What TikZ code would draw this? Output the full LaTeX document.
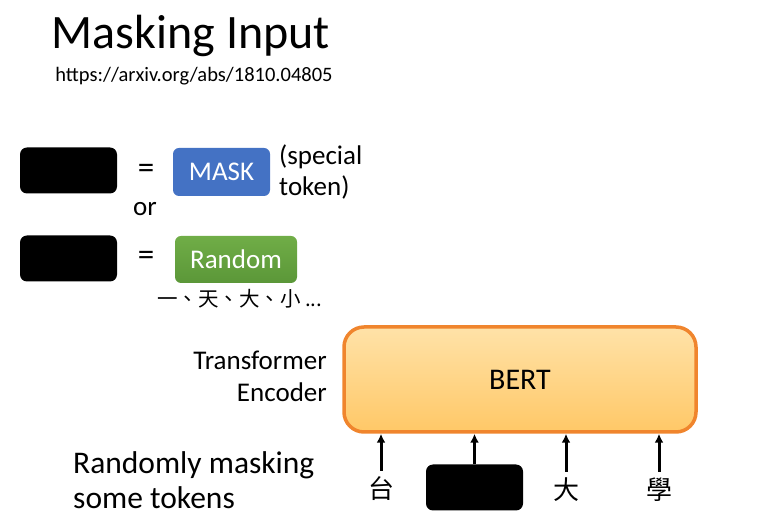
\documentclass[tikz,border=0pt]{standalone}
\usepackage{fontspec}
\setmainfont{Carlito}
\newfontfamily\cjkfont{Noto Sans CJK TC}
\usetikzlibrary{positioning,arrows.meta}
\definecolor{maskblue}{HTML}{4472C4}
\definecolor{randgreen}{HTML}{70AD47}
\definecolor{randdark}{HTML}{5B9738}
\definecolor{bertedge}{HTML}{F0852D}
\definecolor{bertlight}{HTML}{FFE2A8}
\definecolor{bertdark}{HTML}{FFC867}
\tikzset{
  hidden/.style={fill=black, rounded corners=7pt, minimum width=97pt,
                 minimum height=46pt, inner sep=0pt},
  tokenbox/.style={rounded corners=6pt, minimum height=48pt, inner sep=0pt,
                   text=white, font=\fontsize{27}{30}\selectfont},
  plain/.style={font=\fontsize{27}{31}\selectfont, inner sep=0pt},
  equals/.style={font=\fontsize{33}{36}\selectfont, inner sep=0pt},
  cjk/.style={font=\cjkfont\fontsize{26}{28}\selectfont, inner sep=0pt},
  up/.style={-{Latex[length=9pt,width=9pt]}, line width=3pt},
}
\begin{document}
\begin{tikzpicture}[x=1pt, y=-1pt]
    \useasboundingbox (0,0) rectangle (761,526);
    \node[font=\fontsize{48}{52}\selectfont, inner sep=0pt] (title) at (191,36) {Masking Input};
    \node[font=\fontsize{20.5}{24}\selectfont, inner sep=0pt] (url) at (194,76) {https://arxiv.org/abs/1810.04805};
    % mask or random
    \node[hidden] (h1) at (68.5,170.5) {};
    \node[equals] (eq1) at (146,171) {=};
    \node[tokenbox, fill=maskblue, minimum width=97pt] (mask) at (221.5,172) {MASK};
    \node[plain, align=left, anchor=west] (special) at (279,172) {(special\\token)};
    \node[plain] (or) at (145,209) {or};
    \node[hidden] (h2) at (68.5,258.5) {};
    \node[equals] (eq2) at (146,258) {=};
    \node[tokenbox, top color=randgreen, bottom color=randdark, minimum width=122pt,
          minimum height=47pt] (random) at (236,259.5) {Random};
    \node[font=\cjkfont\fontsize{20.5}{24}\selectfont, inner sep=0pt, anchor=west] (chars) at (157,299) {一、天、大、小 ...};
    % encoder
    \node[draw=bertedge, line width=3.5pt, rounded corners=20pt, top color=bertlight,
          bottom color=bertdark, minimum width=352pt, minimum height=105pt,
          font=\fontsize{30}{34}\selectfont] (bert) at (520,379.5) {BERT};
    \node[plain, align=right, anchor=east, font=\fontsize{27}{32}\selectfont] (enc) at (327,376) {Transformer\\Encoder};
    \node[cjk] (t1) at (381,489) {台};
    \node[hidden] (h3) at (474.5,487.5) {};
    \node[cjk] (t3) at (566,490) {大};
    \node[cjk] (t4) at (659,490) {學};
    \draw[up] (t1.north) ++(0,-6) coordinate (a1) -- (a1 |- bert.south);
    \draw[up] (h3.north) -- (h3.north |- bert.south);
    \draw[up] (t3.north) ++(0,-6) coordinate (a3) -- (a3 |- bert.south);
    \draw[up] (t4.north) ++(0,-6) coordinate (a4) -- (a4 |- bert.south);
    \node[font=\fontsize{31.5}{35}\selectfont, inner sep=0pt, align=left, anchor=west] (note) at (73,480) {Randomly masking\\some tokens};
\end{tikzpicture}
\end{document}
